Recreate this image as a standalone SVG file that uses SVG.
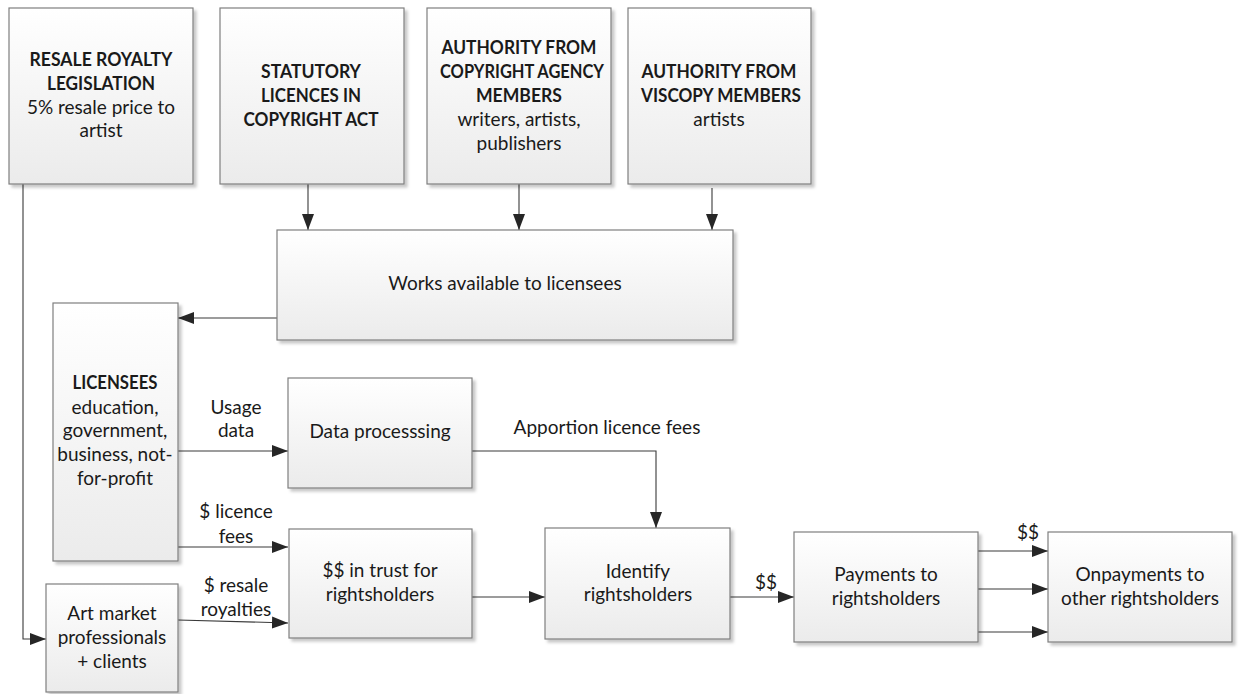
<svg xmlns="http://www.w3.org/2000/svg" width="1240" height="694" viewBox="0 0 1240 694">
<defs>
<linearGradient id="g" x1="0" y1="0" x2="0" y2="1">
<stop offset="0" stop-color="#ffffff"/>
<stop offset="1" stop-color="#ebebeb"/>
</linearGradient>
<filter id="sh" x="-10%" y="-10%" width="130%" height="130%">
<feDropShadow dx="3" dy="3" stdDeviation="1.5" flood-color="#000" flood-opacity="0.22"/>
</filter>
<marker id="ah" markerWidth="17" markerHeight="13" refX="16" refY="6.5" orient="auto" markerUnits="userSpaceOnUse">
<path d="M0,0.5 L16,6.5 L0,12.5 Z" fill="#262626"/>
</marker>
<style>
.box{fill:url(#g);stroke:#7f7f7f;stroke-width:1.2;filter:url(#sh)}
text{font-family:Lato,"Open Sans","Liberation Sans",sans-serif;font-size:19px;fill:#1a1a1a;text-anchor:middle}
.b{font-weight:bold;font-size:18px}
.c{fill:none;stroke:#3a3a3a;stroke-width:1.1}
.a{marker-end:url(#ah)}
</style>
</defs>
<rect width="1240" height="694" fill="#ffffff"/>

<g id="connectors">
<path class="c a" d="M23,184 V639 H46"/>
<path class="c a" d="M308,184 V230"/>
<path class="c a" d="M519,184 V230"/>
<path class="c a" d="M712,188 V230"/>
<path class="c a" d="M281,318 H178"/>
<path class="c a" d="M178,451 H288"/>
<path class="c a" d="M472,451 H656 V528"/>
<path class="c a" d="M178,547 H288"/>
<path class="c a" d="M178,620 L288,623"/>
<path class="c a" d="M472,597 H545"/>
<path class="c a" d="M722,597 H794"/>
<path class="c a" d="M975,551 H1048"/>
<path class="c a" d="M972,589 H1048"/>
<path class="c a" d="M976,632 H1048"/>
<text x="236" y="414">Usage</text>
<text x="236" y="437">data</text>
<text x="236" y="518">$ licence</text>
<text x="236" y="543">fees</text>
<text x="236" y="592">$ resale</text>
<text x="236" y="616">royalties</text>
<text x="607" y="434">Apportion licence fees</text>
<text x="766" y="589">$$</text>
<text x="1028" y="539">$$</text>
</g>

<g id="resale">
<rect class="box" x="9" y="8" width="184" height="176"/>
<text class="b" x="101" y="66" textLength="143" lengthAdjust="spacingAndGlyphs">RESALE ROYALTY</text>
<text class="b" x="101" y="90" textLength="108" lengthAdjust="spacingAndGlyphs">LEGISLATION</text>
<text x="101" y="114">5% resale price to</text>
<text x="101" y="137">artist</text>
</g>

<g id="statutory">
<rect class="box" x="220" y="8" width="184" height="176"/>
<text class="b" x="311" y="78" textLength="100" lengthAdjust="spacingAndGlyphs">STATUTORY</text>
<text class="b" x="311" y="102" textLength="100" lengthAdjust="spacingAndGlyphs">LICENCES IN</text>
<text class="b" x="311" y="126" textLength="135" lengthAdjust="spacingAndGlyphs">COPYRIGHT ACT</text>
</g>

<g id="copyright-agency">
<rect class="box" x="427" y="8" width="184" height="176"/>
<text class="b" x="519" y="54" textLength="155" lengthAdjust="spacingAndGlyphs">AUTHORITY FROM</text>
<text class="b" x="522" y="78" textLength="164" lengthAdjust="spacingAndGlyphs">COPYRIGHT AGENCY</text>
<text class="b" x="519" y="102" textLength="86" lengthAdjust="spacingAndGlyphs">MEMBERS</text>
<text x="519" y="126">writers, artists,</text>
<text x="519" y="150">publishers</text>
</g>

<g id="viscopy">
<rect class="box" x="628" y="8" width="183" height="176"/>
<text class="b" x="719" y="78" textLength="155" lengthAdjust="spacingAndGlyphs">AUTHORITY FROM</text>
<text class="b" x="721" y="102" textLength="160" lengthAdjust="spacingAndGlyphs">VISCOPY MEMBERS</text>
<text x="719" y="126">artists</text>
</g>

<g id="works">
<rect class="box" x="277" y="230" width="456" height="110"/>
<text x="505" y="290">Works available to licensees</text>
</g>

<g id="licensees">
<rect class="box" x="53" y="303" width="125" height="258"/>
<text class="b" x="115" y="389" textLength="85" lengthAdjust="spacingAndGlyphs">LICENSEES</text>
<text x="115" y="414">education,</text>
<text x="115" y="437">government,</text>
<text x="115" y="461">business, not-</text>
<text x="115" y="485">for-profit</text>
</g>

<g id="data-processing">
<rect class="box" x="288" y="378" width="184" height="110"/>
<text x="380" y="438">Data processsing</text>
</g>

<g id="trust">
<rect class="box" x="289" y="529" width="183" height="109"/>
<text x="380" y="577">$$ in trust for</text>
<text x="380" y="601">rightsholders</text>
</g>

<g id="art-market">
<rect class="box" x="46" y="584" width="132" height="108"/>
<text x="112" y="620">Art market</text>
<text x="112" y="644">professionals</text>
<text x="112" y="668">+ clients</text>
</g>

<g id="identify">
<rect class="box" x="545" y="528" width="185" height="111"/>
<text x="638" y="578">Identify</text>
<text x="638" y="601">rightsholders</text>
</g>

<g id="payments">
<rect class="box" x="794" y="532" width="184" height="110"/>
<text x="886" y="581">Payments to</text>
<text x="886" y="605">rightsholders</text>
</g>

<g id="onpayments">
<rect class="box" x="1048" y="532" width="184" height="110"/>
<text x="1140" y="581">Onpayments to</text>
<text x="1140" y="605">other rightsholders</text>
</g>
</svg>
